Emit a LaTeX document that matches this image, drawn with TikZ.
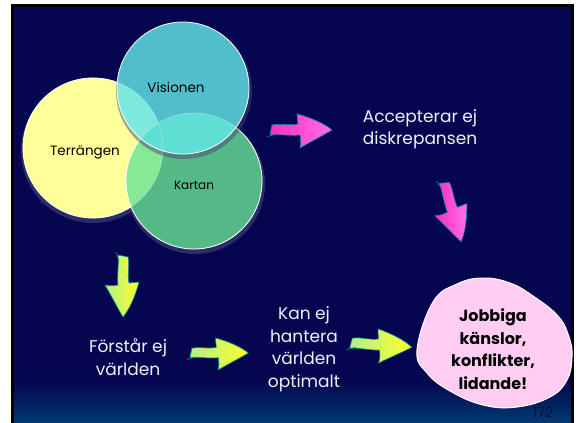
\documentclass[tikz,border=0pt]{standalone}
\usepackage{fontspec}
\setmainfont{Poppins}
\usetikzlibrary{calc, positioning}
\definecolor{SlideNavy}{RGB}{5, 5, 80}
\definecolor{SlideBlue}{RGB}{0, 58, 112}
\definecolor{TerrYellow}{RGB}{255, 255, 153}
\definecolor{VisCyan}{RGB}{82, 190, 204}
\definecolor{KartGreen}{RGB}{85, 185, 135}
\definecolor{MixAqua}{RGB}{125, 232, 220}
\definecolor{MixLime}{RGB}{135, 232, 150}
\definecolor{MixTeal}{RGB}{95, 222, 212}
\definecolor{ShadowNavy}{RGB}{70, 70, 120}
\definecolor{PinkDeep}{RGB}{255, 45, 195}
\definecolor{PinkSoft}{RGB}{255, 110, 232}
\definecolor{LimeSoft}{RGB}{175, 240, 140}
\definecolor{LemonYellow}{RGB}{255, 255, 40}
\definecolor{ArrowEdge}{RGB}{0, 140, 140}
\definecolor{BubblePink}{RGB}{255, 204, 242}
\definecolor{TextWhite}{RGB}{240, 240, 250}
\definecolor{PageInk}{RGB}{15, 15, 45}

\tikzset{
  pics/fatarrow/.style 2 args={code={
    \shade[left color=#1, right color=#2, draw=ArrowEdge, line width=0.6pt]
      (2,-5) .. controls (10,-7) and (20,-4) .. (28,-6) -- (27,-16)
      .. controls (42,-12) and (55,-6) .. (62,0)
      .. controls (52,6) and (40,12) .. (30,18)
      .. controls (31,12) .. (30,5)
      .. controls (20,6) and (10,4) .. (0,5) -- cycle;
    \draw[ArrowEdge, line width=0.6pt] (-3,7) -- (6,4);
  }},
  circtext/.style={text=black, font=\fontsize{13.5}{16}\selectfont},
  slidetext/.style={text=TextWhite, align=center, font=\fontsize{17}{22.5}\selectfont},
}

\begin{document}
\begin{tikzpicture}[x=1pt, y=-1pt]
    \useasboundingbox (0,0) rectangle (579,423);
    % Fondo de la diapositiva
    \fill[white] (0,0) rectangle (579,423);
    \fill[black] (11,4) rectangle (574,423);
    \fill[SlideNavy] (14,7) rectangle (571,423);
    \shade[top color=SlideNavy, bottom color=SlideBlue] (14,380) rectangle (571,423);

    % Centros de los circulos
    \coordinate (cT) at (93,148);
    \coordinate (cV) at (183,88);
    \coordinate (cK) at (194,181);

    % Sombras
    \fill[ShadowNavy, opacity=0.6] ($(cT)+(0,3)$) circle (72);
    \fill[ShadowNavy, opacity=0.6] ($(cK)+(1,3)$) circle (70);

    % Terrängen y Kartan
    \fill[TerrYellow] (cT) circle (70);
    \draw[white, line width=0.8pt] (cT) circle (70);
    \fill[KartGreen] (cK) circle (68);
    \begin{scope}
        \clip (cT) circle (70);
        \fill[MixLime] (cK) circle (68);
    \end{scope}
    \draw[white, line width=0.8pt] (cK) circle (68);

    % Visionen encima
    \fill[ShadowNavy, opacity=0.5] ($(cV)+(1,3)$) circle (68);
    \fill[VisCyan] (cV) circle (66);
    \begin{scope}
        \clip (cV) circle (66);
        \fill[MixAqua] (cT) circle (70);
        \fill[MixTeal] (cK) circle (68);
    \end{scope}
    \draw[white, line width=0.8pt] (cV) circle (66);
    \draw[white, opacity=0.35, line width=0.6pt] (cK) circle (68);
    \draw[white, opacity=0.3, line width=0.6pt] (cT) circle (70);

    % Textos de los circulos
    \node[circtext] (visionen) at (176,87) {Visionen};
    \node[circtext] (terrangen) at (85,152) {Terrängen};
    \node[circtext, font=\fontsize{12}{14}\selectfont] (kartan) at (194,185) {Kartan};

    % Burbuja final
    \filldraw[fill=BubblePink, draw=white, line width=1pt]
        plot[smooth cycle, tension=0.7] coordinates {(417,350) (433,302) (457,284) (483,278)
        (510,283) (533,296) (558,316) (569,337) (572,357) (567,380) (550,397)
        (517,407) (483,405) (450,391) (427,373)};

    % Textos blancos
    \node[slidetext] (accept) at (420,129) {Accepterar ej\\diskrepansen};
    \node[slidetext] (forstar) at (128,357) {Förstår ej\\världen};
    \node[slidetext] (kanej) at (304,349) {Kan ej\\hantera\\världen\\optimalt};
    \node[align=center, text=black, font=\bfseries\fontsize{16}{22.5}\selectfont]
        (jobbiga) at (493,349) {Jobbiga\\känslor,\\konflikter,\\lidande!};
    \node[text=PageInk, font=\fontsize{14}{16}\selectfont] (pagenum) at (543,412) {172};

    % Flechas
    \coordinate (pinkA) at (270,130);
    \coordinate (pinkB) at (444,182);
    \coordinate (limeA) at (123,255);
    \coordinate (limeB) at (190,353);
    \coordinate (limeC) at (350,343);
    \pic at (pinkA) {fatarrow={PinkDeep}{PinkSoft}};
    \pic[rotate=-74] at (pinkB) {fatarrow={PinkDeep}{PinkSoft}};
    \pic[rotate=-90] at (limeA) {fatarrow={LimeSoft}{LemonYellow}};
    \pic[scale=0.94] at (limeB) {fatarrow={LimeSoft}{LemonYellow}};
    \pic[rotate=-4] at (limeC) {fatarrow={LimeSoft}{LemonYellow}};
\end{tikzpicture}
\end{document}
